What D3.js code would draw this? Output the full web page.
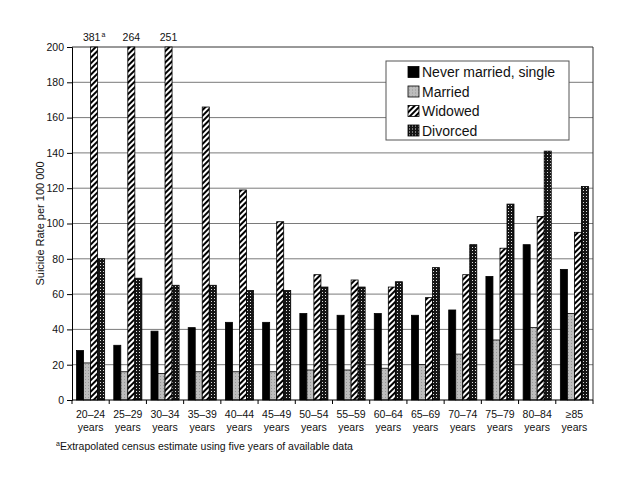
<!DOCTYPE html>
<html>
<head>
<meta charset="utf-8">
<script src="https://cdn.jsdelivr.net/npm/d3@7"></script>
<style>
  body { margin: 0; background: #fff; }
  text { font-family: "Liberation Sans", Arial, sans-serif; fill: #111; }
</style>
</head>
<body>
<svg id="chart"></svg>
<script>
const ageGroups = ["20–24", "25–29", "30–34", "35–39", "40–44", "45–49", "50–54",
  "55–59", "60–64", "65–69", "70–74", "75–79", "80–84", "≥85"];
const seriesNames = ["Never married, single", "Married", "Widowed", "Divorced"];

const neverMarried = [28, 31, 39, 41, 44, 44, 49, 48, 49, 48, 51, 70, 88, 74];
const married = [21, 16, 15, 16, 16, 16, 17, 17, 18, 20, 26, 34, 41, 49];
const widowed = [381, 264, 251, 166, 119, 101, 71, 68, 64, 58, 71, 86, 104, 95];
const divorced = [80, 69, 65, 65, 62, 62, 64, 64, 67, 75, 88, 111, 141, 121];

const yTicks = [0, 20, 40, 60, 80, 100, 120, 140, 160, 180, 200];
const footnote = "Extrapolated census estimate using five years of available data";

const seriesValues = [neverMarried, married, widowed, divorced];
const fills = ["#000", "url(#married)", "url(#widowed)", "url(#divorced)"];

const width = 640;
const height = 492;
const margin = { top: 47, right: 47, bottom: 92, left: 72 };

const svg = d3.select("#chart")
  .attr("width", width)
  .attr("height", height);

// patterns
const defs = svg.append("defs");

const pm = defs.append("pattern")
  .attr("id", "married").attr("patternUnits", "userSpaceOnUse")
  .attr("width", 3).attr("height", 3);
pm.append("rect").attr("width", 3).attr("height", 3).attr("fill", "#bdbdbd");
pm.append("rect").attr("x", 1).attr("y", 1).attr("width", 1).attr("height", 1).attr("fill", "#979797");

const pw = defs.append("pattern")
  .attr("id", "widowed").attr("patternUnits", "userSpaceOnUse")
  .attr("width", 4).attr("height", 4)
  .attr("patternTransform", "rotate(45)");
pw.append("rect").attr("width", 4).attr("height", 4).attr("fill", "#fff");
pw.append("rect").attr("width", 2).attr("height", 4).attr("fill", "#000");

const pd = defs.append("pattern")
  .attr("id", "divorced").attr("patternUnits", "userSpaceOnUse")
  .attr("width", 3).attr("height", 3);
pd.append("rect").attr("width", 3).attr("height", 3).attr("fill", "#151515");
pd.append("rect").attr("x", 1).attr("y", 1).attr("width", 1).attr("height", 1).attr("fill", "#ddd");

const x = d3.scaleBand()
  .domain(ageGroups)
  .range([margin.left, width - margin.right])
  .padding(0);

const xInner = d3.scaleBand()
  .domain(seriesNames)
  .range([0, x.bandwidth()])
  .paddingInner(0)
  .paddingOuter(0.65);

const y = d3.scaleLinear()
  .domain([0, 200])
  .range([height - margin.bottom, margin.top]);

// gridlines
svg.append("g")
  .selectAll("line")
  .data(yTicks.filter(d => d > 0 && d < 200))
  .enter()
  .append("line")
  .attr("x1", margin.left)
  .attr("x2", width - margin.right)
  .attr("y1", d => y(d))
  .attr("y2", d => y(d))
  .attr("stroke", "#7a7a7a")
  .attr("stroke-width", 1);

// frame top & right
svg.append("path")
  .attr("d", `M${margin.left},${y(200)}H${width - margin.right}V${y(0)}`)
  .attr("fill", "none")
  .attr("stroke", "#333")
  .attr("stroke-width", 1);

// bars
const rows = [];
ageGroups.forEach((g, i) => {
  seriesNames.forEach((s, j) => {
    rows.push({ group: g, series: s, value: seriesValues[j][i], fill: fills[j] });
  });
});

svg.append("g")
  .selectAll("rect")
  .data(rows)
  .enter()
  .append("rect")
  .attr("x", d => x(d.group) + xInner(d.series))
  .attr("width", xInner.bandwidth())
  .attr("y", d => y(Math.min(d.value, 200)))
  .attr("height", d => y(0) - y(Math.min(d.value, 200)))
  .attr("fill", d => d.fill)
  .attr("stroke", "#000")
  .attr("stroke-width", 0.8);

// y axis
const yAxis = svg.append("g")
  .attr("transform", `translate(${margin.left},0)`)
  .call(d3.axisLeft(y).tickValues(yTicks).tickSize(5).tickPadding(3));
yAxis.select(".domain").attr("stroke", "#000");
yAxis.selectAll("text").style("font-size", "10.5px").style("font-family", "Liberation Sans, Arial, sans-serif");

// x axis line + ticks at group boundaries
svg.append("line")
  .attr("x1", margin.left).attr("x2", width - margin.right)
  .attr("y1", y(0)).attr("y2", y(0))
  .attr("stroke", "#000");

const bounds = ageGroups.map(g => x(g)).concat([x(ageGroups[ageGroups.length - 1]) + x.bandwidth()]);
svg.append("g")
  .selectAll("line")
  .data(bounds)
  .enter()
  .append("line")
  .attr("x1", d => d).attr("x2", d => d)
  .attr("y1", y(0)).attr("y2", y(0) + 4)
  .attr("stroke", "#000");

const xl = svg.append("g")
  .selectAll("text")
  .data(ageGroups)
  .enter()
  .append("text")
  .attr("text-anchor", "middle")
  .attr("font-size", "10.5px")
  .attr("x", d => x(d) + x.bandwidth() / 2)
  .attr("y", y(0) + 18);
xl.append("tspan").text(d => d);
xl.append("tspan")
  .attr("x", d => x(d) + x.bandwidth() / 2)
  .attr("dy", 13)
  .text("years");

// values above clipped bars
const clipped = rows.filter(d => d.value > 200);
const topLabels = svg.append("g")
  .selectAll("text")
  .data(clipped)
  .enter()
  .append("text")
  .attr("text-anchor", "middle")
  .attr("font-size", "10.5px")
  .attr("x", d => x(d.group) + xInner(d.series) + xInner.bandwidth() / 2)
  .attr("y", y(200) - 6);
topLabels.append("tspan").text(d => d.value);
topLabels.filter((d, i) => i === 0)
  .append("tspan")
  .attr("font-size", "7px")
  .attr("dx", 1)
  .attr("dy", -4)
  .text("a");

// y title
svg.append("text")
  .attr("transform", "rotate(-90)")
  .attr("x", -(margin.top + y(0)) / 2)
  .attr("y", 44)
  .attr("text-anchor", "middle")
  .attr("font-size", "11px")
  .text("Suicide Rate per 100 000");

// legend
const legend = svg.append("g").attr("transform", "translate(386,61)");
legend.append("rect")
  .attr("width", 183).attr("height", 79)
  .attr("fill", "#fff").attr("stroke", "#555").attr("stroke-width", 1);
const li = legend.selectAll("g.item")
  .data(seriesNames)
  .enter()
  .append("g")
  .attr("class", "item")
  .attr("transform", (d, i) => `translate(22,${11 + i * 19.5})`);
li.append("rect")
  .attr("y", -5.5).attr("width", 11).attr("height", 11)
  .attr("fill", (d, i) => fills[i])
  .attr("stroke", "#000").attr("stroke-width", 0.8);
li.append("text")
  .attr("x", 14).attr("y", 5)
  .attr("font-size", "14px")
  .text(d => d);

// footnote
const fn = svg.append("text")
  .attr("x", 56).attr("y", 450)
  .attr("font-size", "10.5px");
fn.append("tspan").attr("font-size", "7px").attr("dy", -4).text("a");
fn.append("tspan").attr("dy", 4).text(footnote);
</script>
</body>
</html>
